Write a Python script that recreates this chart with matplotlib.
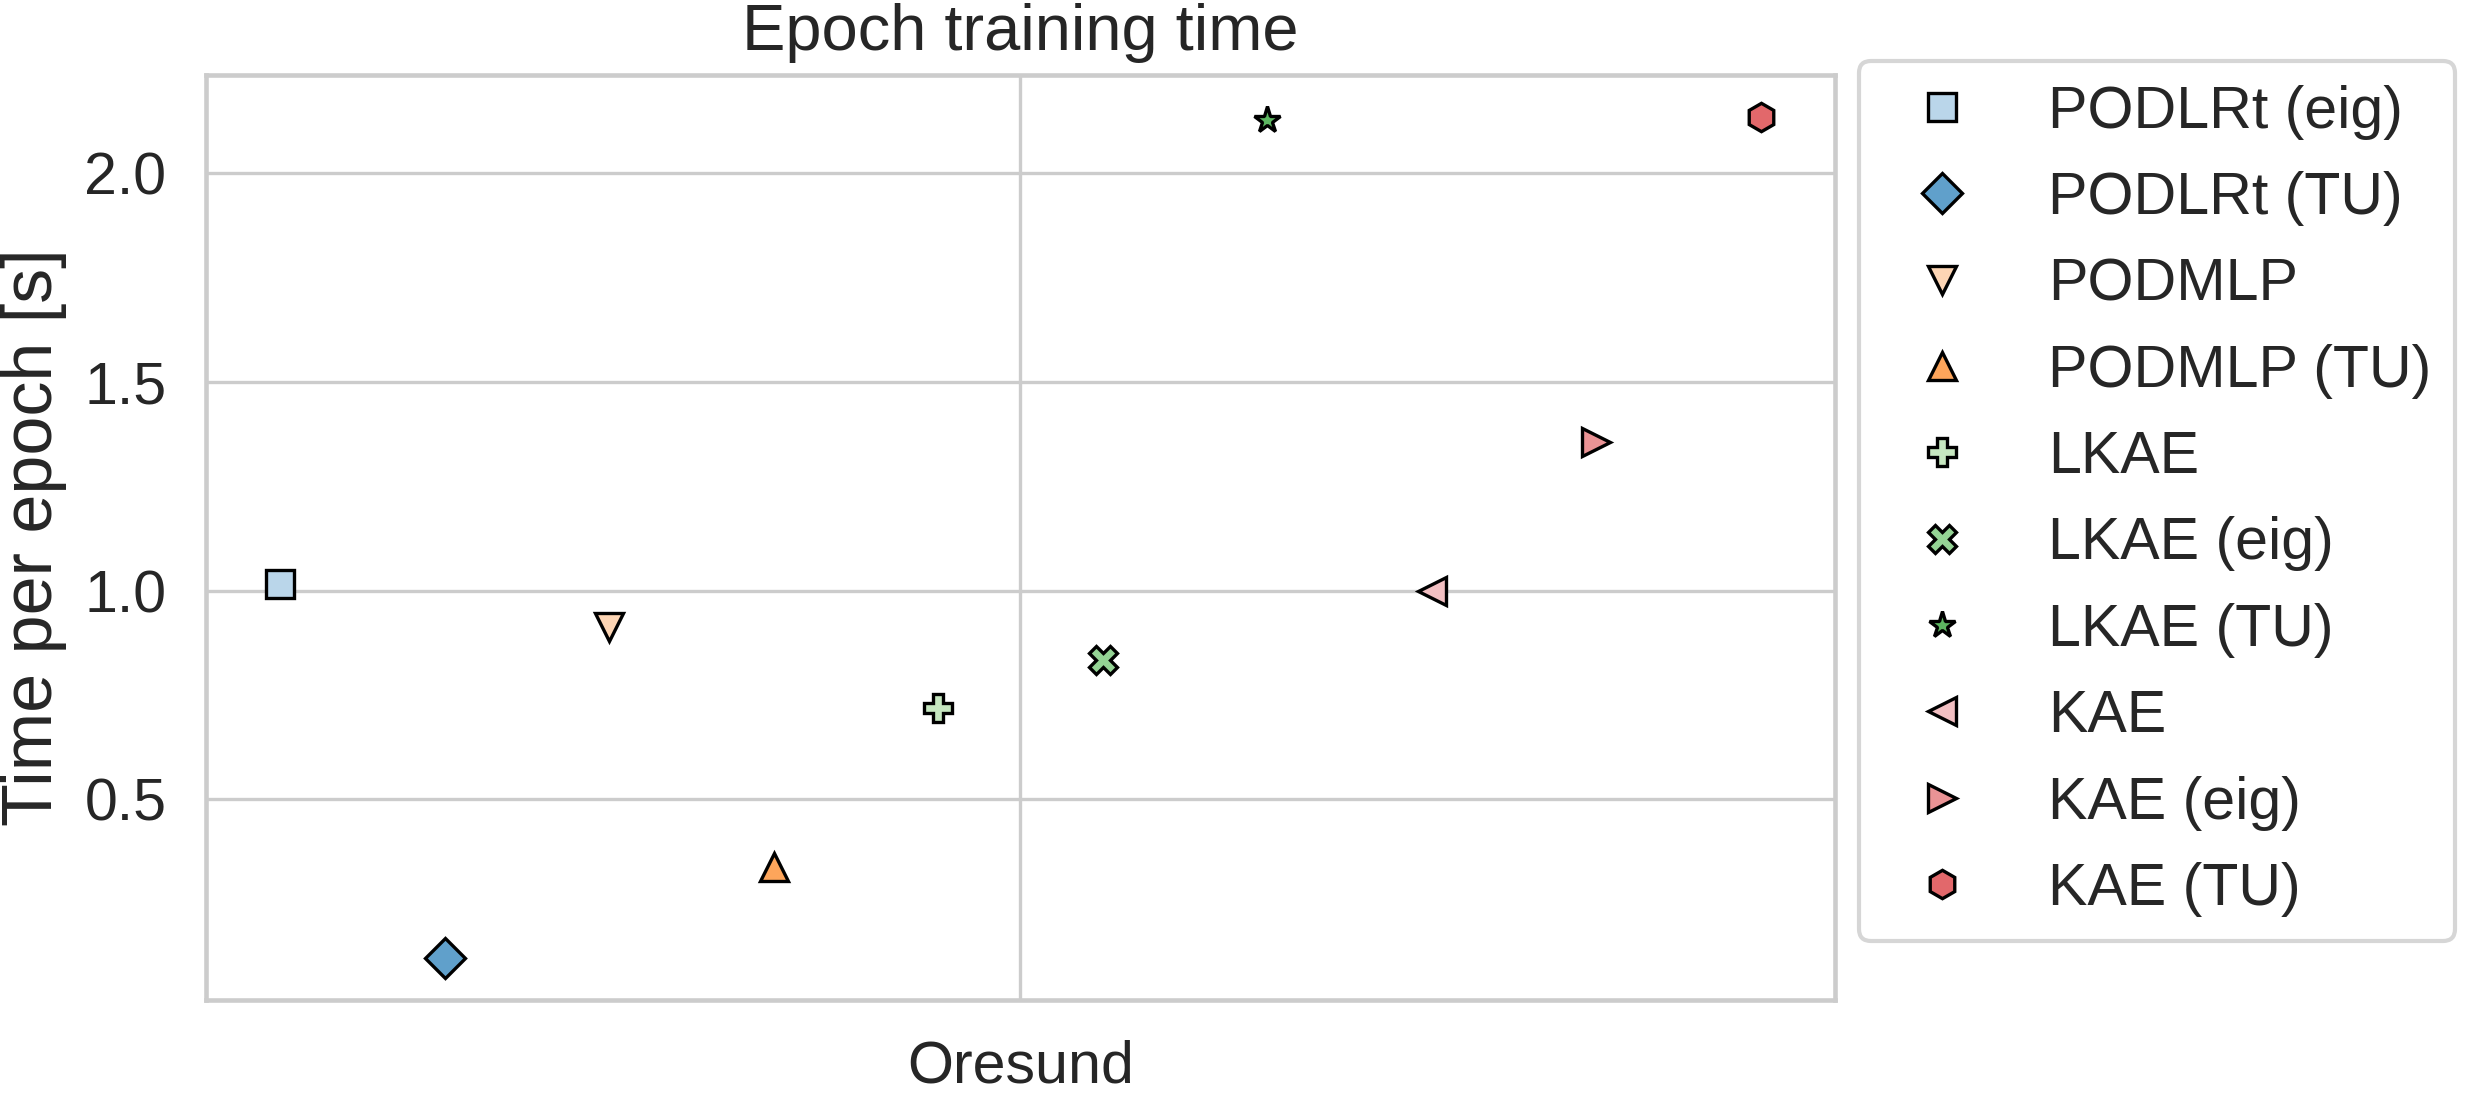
import matplotlib
matplotlib.use("Agg")
import matplotlib.pyplot as plt
import numpy as np

plt.rcParams['font.family'] = ['Liberation Sans', 'DejaVu Sans']

categories = ["Oresund"]
models = ["PODLRt (eig)", "PODLRt (TU)", "PODMLP", "PODMLP (TU)", "LKAE",
          "LKAE (eig)", "LKAE (TU)", "KAE", "KAE (eig)", "KAE (TU)"]
times = [1.015, 0.12, 0.914, 0.338, 0.718, 0.835, 2.128, 1.0, 1.356, 2.135]
markers = ["s", "D", "v", "^", "P", "X", "*", "<", ">", "h"]
colors = ["#bad6ea", "#60a0cb", "#fdd5b4", "#fda55b", "#c6e7c0",
          "#94d394", "#5db661", "#f2bfc2", "#ea9395", "#e2686b"]

W, H, DPI = 2465, 1102, 300
fig = plt.figure(figsize=(W / DPI, H / DPI), dpi=DPI)
ax = fig.add_axes([206 / W, 1 - 1000 / H, (1835 - 206) / W, (1000 - 75) / H])

n = len(models)
offsets = np.linspace(-0.36, 0.36, n)
for i, (m, t, mk, c) in enumerate(zip(models, times, markers, colors)):
    ax.plot([0 + offsets[i]], [t], linestyle="none", marker=mk, markersize=6.8,
            markerfacecolor=c, markeredgecolor="black", markeredgewidth=0.8,
            label=m, zorder=3)

ax.set_xticks([0])
ax.set_xticklabels(categories)
ax.set_yticks([0.5, 1.0, 1.5, 2.0])
ax.set_yticklabels(["0.5", "1.0", "1.5", "2.0"])
ax.margins(x=0.05, y=0.05)

ax.grid(True, color="#cccccc", linewidth=0.8)
ax.set_axisbelow(True)
for s in ax.spines.values():
    s.set_color("#cccccc")
    s.set_linewidth(1.1)
ax.tick_params(axis="both", length=0, pad=9.5, labelsize=14.2, labelcolor="#262626")

ax.set_title("Epoch training time", fontsize=15.6, color="#262626", pad=6)
ax.set_ylabel("Time per epoch [s]", fontsize=16.8, color="#262626", labelpad=4)

leg = ax.legend(loc="upper left", bbox_to_anchor=(1859 / W, 1 - 61 / H),
                bbox_transform=fig.transFigure, borderaxespad=0,
                fontsize=14.2, frameon=True, labelspacing=0.53,
                handlelength=2.0, handletextpad=0.8, borderpad=0.4)
leg.get_frame().set_edgecolor("#cccccc")
leg.get_frame().set_linewidth(1.0)
for t in leg.get_texts():
    t.set_color("#262626")

fig.savefig("out.png", dpi=DPI)
